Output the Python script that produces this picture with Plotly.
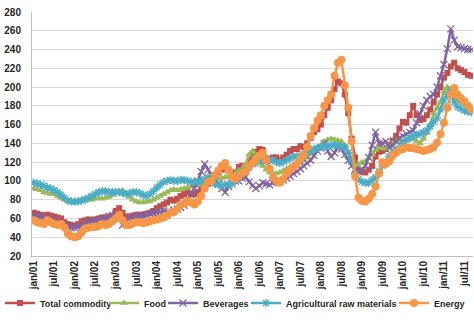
import plotly.graph_objects as go

months = ["jan", "feb", "mar", "apr", "may", "jun", "jul", "aug", "sep", "oct", "nov", "dec"]
categories = [f"{m}/{y:02d}" for y in range(1, 12) for m in months][:129]
tick_labels = [c for c in categories if c.startswith(("jan", "jul"))]

total_commodity = [
    66, 65, 64, 63, 64, 63, 62, 61, 60, 56, 54, 53,
    52, 54, 57, 58, 59, 58, 59, 60, 61, 61, 62, 63,
    68, 71, 66, 62, 62, 63, 64, 64, 64, 65, 66, 68,
    71, 73, 75, 77, 80, 79, 81, 84, 86, 88, 86, 86,
    88, 92, 97, 97, 99, 104, 109, 112, 114, 111, 106, 109,
    115, 116, 115, 121, 129, 131, 134, 133, 124, 122, 125, 125,
    122, 125, 128, 132, 134, 134, 137, 136, 140, 146, 152, 155,
    160, 170, 178, 186, 198, 206, 204, 192, 172, 145, 125, 112,
    110, 109, 112, 116, 126, 131, 132, 134, 138, 143, 148, 156,
    163, 162, 170, 180, 170, 165, 166, 170, 176, 184, 192, 200,
    210, 215, 222, 226, 220, 218, 216, 213, 212,
]
food = [
    92, 91, 90, 88, 87, 86, 86, 84, 82, 80, 79, 79,
    78, 79, 80, 81, 80, 80, 81, 82, 81, 82, 83, 85,
    87, 89, 90, 86, 83, 80, 78, 77, 77, 78, 78, 80,
    82, 84, 86, 88, 90, 91, 90, 91, 92, 93, 94, 95,
    96, 97, 98, 99, 100, 101, 102, 103, 104, 105, 106, 108,
    111, 113, 118, 128, 132, 126, 120, 116, 112, 109, 108, 108,
    109, 111, 113, 115, 116, 118, 120, 122, 125, 129, 133, 136,
    138, 142, 144, 145, 144, 143, 142, 138, 130, 120, 116, 118,
    120, 121, 124, 128, 133, 136, 135, 134, 136, 140, 142, 142,
    142, 143, 144, 145, 142, 140, 145, 151, 160, 172, 178, 184,
    195, 200, 193, 190, 186, 184, 182, 180, 178,
]
beverages = [
    63, 62, 61, 60, 60, 59, 58, 56, 55, 53, 51, 50,
    50, 51, 52, 55, 56, 57, 58, 58, 59, 60, 62, 63,
    64, 60, 53, 58, 60, 61, 62, 62, 63, 64, 65, 66,
    66, 67, 68, 67, 66, 69, 70, 72, 74, 78, 85, 92,
    100, 110, 118, 112, 106, 101, 97, 92, 88, 94, 97, 100,
    100, 103, 104, 99, 95, 92, 95, 98, 97, 96, 98, 99,
    100, 101, 103, 105, 108, 110, 113, 116, 119, 122, 127, 132,
    135, 140, 132, 126, 130, 136, 134, 128, 122, 116, 112, 110,
    112, 116, 125, 138, 152, 140, 140, 142, 136, 138, 142, 146,
    148, 150, 152, 154, 162, 172, 180, 186, 190, 192, 200, 212,
    224, 241, 262, 250, 243, 242, 241, 240, 240,
]
agricultural_raw = [
    98, 97, 96, 95, 93, 92, 90, 88, 85, 82, 79, 78,
    78, 78, 79, 80, 82, 84, 86, 88, 89, 89, 88, 88,
    88, 88, 87, 86, 87, 88, 88, 87, 85, 84, 86, 89,
    93, 96, 99, 100, 101, 100, 100, 101, 101, 100, 99, 99,
    99, 100, 102, 104, 101, 97, 96, 95, 96, 96, 97, 100,
    104, 108, 110, 114, 118, 119, 122, 121, 121, 122, 122, 120,
    119, 120, 122, 124, 126, 126, 127, 128, 130, 132, 134, 135,
    136, 137, 137, 138, 138, 138, 137, 136, 130, 122, 108, 102,
    99, 98, 98, 101, 104, 110, 116, 120, 126, 130, 133, 135,
    140, 144, 146, 148, 149, 150, 152, 154, 158, 163, 167, 176,
    186, 192, 197, 184, 179, 177, 175, 174, 173,
]
energy = [
    58, 56, 55, 54, 58, 56, 54, 53, 54, 50, 44, 41,
    40, 41, 45, 49, 50, 51, 51, 52, 54, 53, 54, 57,
    60, 64, 58, 53, 53, 55, 56, 56, 55, 56, 57, 58,
    59, 60, 61, 63, 66, 67, 70, 74, 76, 79, 77, 75,
    78, 84, 92, 99, 100, 106, 111, 116, 119, 112, 104, 102,
    105, 108, 110, 116, 119, 122, 127, 130, 122, 113, 104, 100,
    98, 102, 108, 112, 115, 118, 124, 128, 136, 148, 156, 164,
    170, 180, 186, 192, 212, 226, 229, 202, 178, 142, 105, 82,
    79, 78, 81, 86, 94, 108, 120, 118, 121, 127, 130, 133,
    134, 136, 135, 135, 134, 133, 132, 133, 134, 136, 141, 150,
    162, 178, 192, 199, 192, 188, 185, 180, 176,
]

series = [
    ("Total commodity", total_commodity, "#C0504D", "square", 6, "legend", 34),
    ("Food", food, "#9BBB59", "triangle-up", 7, "legend2", 144),
    ("Beverages", beverages, "#8064A2", "x-thin-open", 7, "legend3", 203),
    ("Agricultural raw materials", agricultural_raw, "#4BACC6", "asterisk-open", 7, "legend4", 286),
    ("Energy", energy, "#F79646", "circle", 8, "legend5", 434),
]

FONT = "Liberation Sans"
fig = go.Figure()
legends = {}
for name, vals, color, sym, size, lg, text_x in series:
    marker = dict(symbol=sym, size=size, color=color)
    if sym.endswith("-open"):
        marker["line"] = dict(color=color, width=1.3)
    fig.add_trace(go.Scatter(
        x=categories, y=vals, name=name, mode="lines+markers",
        line=dict(color=color, width=2.5), marker=marker, legend=lg,
    ))
    legends[lg] = dict(
        xref="container", yref="container", x=(text_x - 40) / 474, y=1 - 303 / 327,
        xanchor="left", yanchor="middle", orientation="h",
        bgcolor="rgba(0,0,0,0)", borderwidth=0,
        font=dict(family=FONT, size=9, color="#262626", weight="bold"),
    )

fig.update_layout(
    width=474, height=327,
    margin=dict(l=32, r=1, t=12, b=71, autoexpand=False),
    paper_bgcolor="white", plot_bgcolor="white",
    showlegend=True,
    **legends,
)
fig.update_xaxes(
    type="category", categoryorder="array", categoryarray=categories,
    range=[-0.5, len(categories) - 0.5],
    tickmode="array", tickvals=tick_labels, ticktext=tick_labels,
    tickangle=-90, showgrid=False, showline=True, linecolor="#BFBFBF", linewidth=1,
    ticks="", tickfont=dict(family=FONT, size=10, color="#262626", weight="bold"),
)
fig.update_yaxes(
    range=[20, 280], dtick=20, tick0=20, showgrid=True, gridcolor="#D9D9D9", gridwidth=1,
    showline=True, linecolor="#BFBFBF", linewidth=1, zeroline=False,
    ticks="", ticklabelstandoff=8,
    tickfont=dict(family=FONT, size=10, color="#262626", weight="bold"),
)

fig.write_html("out.html")
